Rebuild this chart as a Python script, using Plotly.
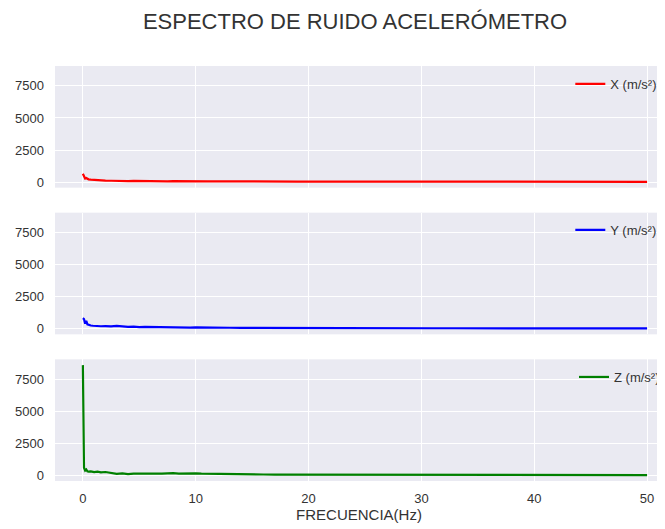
import plotly.graph_objects as go
from plotly.subplots import make_subplots

freq_hz = [0, 0.1, 0.2, 0.3, 0.4, 0.5, 0.7, 0.9, 1.0, 1.3, 1.6, 2.0, 2.5, 3.0, 3.5, 4, 4.5, 5,
           5.5, 6, 6.5, 7, 7.5, 8, 8.5, 9, 9.5, 10, 10.5, 11, 11.5, 12, 12.5, 13, 14, 15,
           16, 17, 18, 19, 21, 23, 25, 27, 29, 31, 33, 35, 37, 39, 41, 43, 45, 47, 49, 50]

accel_x = [650, 480, 280, 320, 240, 220, 200, 180, 170, 160, 140, 120, 110, 90, 105, 80, 95, 85,
           70, 90, 75, 80, 65, 80, 70, 75, 60, 85, 70, 60, 70, 65, 55, 60, 55, 50,
           52, 48, 50, 45, 42, 44, 40, 41, 38, 36, 37, 35, 34, 33, 32, 31, 30, 29, 28, 27]

accel_y = [830, 760, 400, 620, 350, 300, 260, 240, 230, 250, 200, 210, 190, 230, 180, 150, 170, 130,
           150, 140, 125, 120, 130, 115, 105, 110, 100, 120, 105, 100, 90, 95, 85, 85, 80, 75,
           72, 65, 66, 60, 55, 55, 50, 50, 46, 45, 43, 41, 40, 38, 37, 36, 35, 34, 33, 32]

accel_z = [8600, 600, 380, 470, 330, 300, 320, 270, 260, 300, 240, 270, 200, 130, 170, 110, 150, 120,
           140, 140, 130, 150, 170, 190, 150, 160, 190, 170, 140, 130, 150, 140, 120, 110, 90, 80,
           75, 70, 68, 60, 55, 52, 48, 47, 43, 41, 39, 37, 35, 33, 32, 30, 30, 28, 27, 26]

series_names = ["X (m/s²)", "Y (m/s²)", "Z (m/s²)"]
series_colors = ["#ff0000", "#0000ff", "#008000"]
y_ticks = [0, 2500, 5000, 7500]
x_ticks = [0, 10, 20, 30, 40, 50]

OFF = 8  # page body margin
W, H = 665 - OFF, 529 - OFF
plot_left, plot_top, plot_bottom = 55 - OFF, 66 - OFF, 481 - OFF
plot_h = plot_bottom - plot_top
plot_w = W - plot_left

fig = make_subplots(rows=3, cols=1, shared_xaxes=True, vertical_spacing=25 / plot_h)

series = [accel_x, accel_y, accel_z]
legend_ids = ["legend", "legend2", "legend3"]
for i, (vals, name, col, lg) in enumerate(zip(series, series_names, series_colors, legend_ids)):
    fig.add_trace(go.Scatter(x=freq_hz, y=vals, mode="lines", name=name,
                             line=dict(color=col, width=2.2), legend=lg),
                  row=i + 1, col=1)

font_col = "#333333"
fam = "Liberation Sans, Arial, sans-serif"
bg = "#eaeaf2"

for i in range(1, 4):
    fig.update_yaxes(range=[-430, 9050], tickvals=y_ticks, showgrid=True,
                     gridcolor="white", gridwidth=1.3, zeroline=False,
                     showline=False, ticks="", ticklabelstandoff=10,
                     tickfont=dict(size=13, color=font_col, family=fam),
                     row=i, col=1)
    fig.update_xaxes(range=[-2.47, 51.41], tickvals=x_ticks, showgrid=True,
                     gridcolor="white", gridwidth=1.3, zeroline=False,
                     showline=False, ticks="", ticklabelstandoff=8,
                     showticklabels=(i == 3),
                     tickfont=dict(size=13, color=font_col, family=fam),
                     row=i, col=1)

fig.update_xaxes(title=dict(text="FRECUENCIA(Hz)", standoff=4,
                            font=dict(size=15, color=font_col, family=fam)),
                 row=3, col=1)

leg_common = dict(bgcolor="rgba(0,0,0,0)", borderwidth=0, xanchor="left", yanchor="middle",
                  font=dict(size=13, color=font_col, family=fam), itemwidth=30)


def py(px):
    return 1 - (px - OFF - plot_top) / plot_h


def px_(x):
    return (x - OFF - plot_left) / plot_w


fig.update_layout(
    width=W, height=H,
    margin=dict(l=plot_left, r=0, t=plot_top, b=H - plot_bottom),
    paper_bgcolor="white",
    plot_bgcolor=bg,
    showlegend=True,
    title=dict(text="ESPECTRO DE RUIDO ACELERÓMETRO", x=(355 - OFF) / W, xanchor="center",
               y=1 - (21 - OFF) / H, yanchor="middle",
               font=dict(size=22, color=font_col, family=fam)),
    legend=dict(x=px_(572), y=py(84), **leg_common),
    legend2=dict(x=px_(572), y=py(230), **leg_common),
    legend3=dict(x=px_(576), y=py(377), **leg_common),
)

fig.write_html("out.html")
